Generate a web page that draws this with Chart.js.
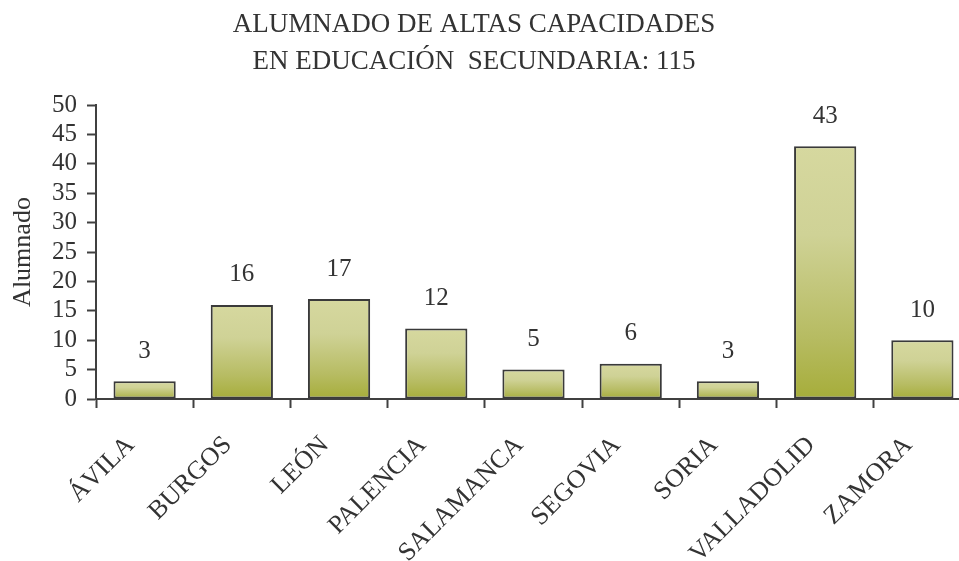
<!DOCTYPE html>
<html>
<head>
<meta charset="utf-8">
<script src="https://cdn.jsdelivr.net/npm/chart.js@4.4.0/dist/chart.umd.min.js"></script>
<style>
    html, body { margin: 0; padding: 0; background: #fff; overflow: hidden; }
    #wrap { position: relative; width: 990px; height: 561px; }
</style>
</head>
<body>
<div id="wrap"><canvas id="chart"></canvas></div>
<script>
// Data
const provincias = ['ÁVILA', 'BURGOS', 'LEÓN', 'PALENCIA', 'SALAMANCA', 'SEGOVIA', 'SORIA', 'VALLADOLID', 'ZAMORA'];
const alumnado = [3, 16, 17, 12, 5, 6, 3, 43, 10];
const tituloLineas = ['ALUMNADO DE ALTAS CAPACIDADES', 'EN EDUCACIÓN  SECUNDARIA: 115'];
const ejeY = 'Alumnado';

const FONT = '"Liberation Serif", "Times New Roman", serif';
const TEXT = '#333333';
const AXIS = '#404040';

// vertical gradient per bar, light at the top, olive at the base
function barFill(context) {
    const chart = context.chart;
    if (!chart.chartArea || !chart.scales.y) return '#c4c77c';
    const y = chart.scales.y;
    const top = y.getPixelForValue(alumnado[context.dataIndex]);
    const bottom = y.getPixelForValue(0);
    const g = chart.ctx.createLinearGradient(0, top, 0, bottom);
    g.addColorStop(0, '#d6d89f');
    g.addColorStop(0.35, '#cfd296');
    g.addColorStop(0.75, '#b7bc63');
    g.addColorStop(1, '#a6ad3a');
    return g;
}

const titlePlugin = {
    id: 'twoLineTitle',
    afterDraw(chart) {
        const ctx = chart.ctx;
        ctx.save();
        ctx.fillStyle = TEXT;
        ctx.font = '27px ' + FONT;
        ctx.textAlign = 'center';
        ctx.textBaseline = 'alphabetic';
        ctx.fillText(tituloLineas[0], 474, 32);
        ctx.fillText(tituloLineas[1], 474, 69);
        ctx.restore();
    }
};

const valueLabels = {
    id: 'valueLabels',
    afterDatasetsDraw(chart) {
        const ctx = chart.ctx;
        const meta = chart.getDatasetMeta(0);
        ctx.save();
        ctx.fillStyle = TEXT;
        ctx.font = '25px ' + FONT;
        ctx.textAlign = 'center';
        ctx.textBaseline = 'middle';
        meta.data.forEach((bar, i) => {
            ctx.fillText(String(alumnado[i]), bar.x, bar.y - 30);
        });
        ctx.restore();
    }
};

new Chart(document.getElementById('chart'), {
    type: 'bar',
    data: {
        labels: provincias,
        datasets: [{
            data: alumnado,
            backgroundColor: barFill,
            borderColor: '#3a3a3a',
            borderWidth: 2,
            borderSkipped: false,
            barPercentage: 0.64,
            categoryPercentage: 1
        }]
    },
    options: {
        responsive: true,
        maintainAspectRatio: false,
        animation: false,
        layout: {
            padding: { top: 105, right: 19, left: 8, bottom: 0 }
        },
        plugins: {
            legend: { display: false },
            tooltip: { enabled: false },
            title: { display: false }
        },
        scales: {
            x: {
                grid: {
                    offset: true,
                    drawOnChartArea: false,
                    drawTicks: true,
                    tickLength: 9,
                    tickColor: AXIS,
                    tickWidth: 2
                },
                border: { color: AXIS, width: 2 },
                ticks: {
                    color: TEXT,
                    font: { family: FONT, size: 26 },
                    maxRotation: 45,
                    minRotation: 45,
                    autoSkip: false,
                    padding: 22,
                    labelOffset: -14
                },
                afterFit: (scale) => { scale.height = 162; }
            },
            y: {
                min: 0,
                max: 50,
                grid: {
                    drawOnChartArea: false,
                    drawTicks: true,
                    tickLength: 9,
                    tickColor: AXIS,
                    tickWidth: 2
                },
                border: { color: AXIS, width: 2 },
                ticks: {
                    stepSize: 5,
                    autoSkip: false,
                    color: TEXT,
                    font: { family: FONT, size: 25 },
                    padding: 10
                },
                title: {
                    display: true,
                    text: ejeY,
                    color: TEXT,
                    font: { family: FONT, size: 26 },
                    padding: { top: 0, bottom: 0 }
                },
                afterFit: (scale) => { scale.width = 88; }
            }
        }
    },
    plugins: [titlePlugin, valueLabels]
});
</script>
</body>
</html>
